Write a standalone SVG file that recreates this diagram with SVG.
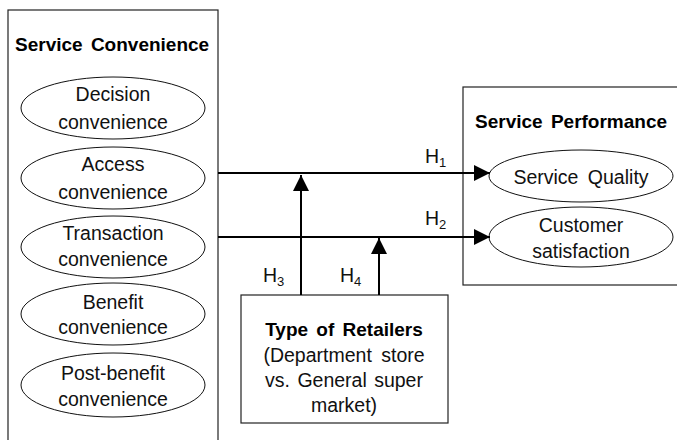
<svg xmlns="http://www.w3.org/2000/svg" width="677" height="440" viewBox="0 0 677 440">
<style>
  .box { fill: #fff; stroke: #222; stroke-width: 1.2; }
  .ell { fill: #fff; stroke: #111; stroke-width: 1; }
  .t { font-family: "Liberation Sans", Arial, sans-serif; font-size: 19.5px; fill: #111; text-anchor: middle; }
  .b { font-family: "Liberation Sans", Arial, sans-serif; font-size: 19px; font-weight: bold; fill: #000; word-spacing: 3px; }
  .h { font-family: "Liberation Sans", Arial, sans-serif; font-size: 19.5px; fill: #111; }
  .sub { font-size: 13px; }
  .conn { stroke: #000; stroke-width: 2; fill: none; }
</style>
<defs>
  <marker id="ah" markerUnits="userSpaceOnUse" markerWidth="16" markerHeight="16" refX="16" refY="8" orient="auto">
    <path d="M0,0 L16,8 L0,16 z" fill="#000"/>
  </marker>
</defs>
<rect width="677" height="440" fill="#fff"/>

<g id="service-convenience">
  <rect class="box" x="8" y="10" width="210" height="440"/>
  <text class="b" x="15" y="51">Service Convenience</text>
</g>
<g id="decision">
  <ellipse class="ell" cx="113" cy="108" rx="92" ry="31"/>
  <text class="t" x="113" y="101">Decision</text>
  <text class="t" x="113" y="129">convenience</text>
</g>
<g id="access">
  <ellipse class="ell" cx="113" cy="178" rx="92" ry="31"/>
  <text class="t" x="113" y="171">Access</text>
  <text class="t" x="113" y="199">convenience</text>
</g>
<g id="transaction">
  <ellipse class="ell" cx="113" cy="247" rx="92" ry="31"/>
  <text class="t" x="113" y="240">Transaction</text>
  <text class="t" x="113" y="266">convenience</text>
</g>
<g id="benefit">
  <ellipse class="ell" cx="113" cy="314" rx="92" ry="31"/>
  <text class="t" x="113" y="309">Benefit</text>
  <text class="t" x="113" y="334">convenience</text>
</g>
<g id="post-benefit">
  <ellipse class="ell" cx="113" cy="385" rx="92" ry="32"/>
  <text class="t" x="113" y="380">Post-benefit</text>
  <text class="t" x="113" y="406">convenience</text>
</g>

<g id="service-performance">
  <rect class="box" x="463" y="87" width="230" height="198"/>
  <text class="b" x="475" y="128">Service Performance</text>
</g>
<g id="service-quality">
  <ellipse class="ell" cx="581" cy="176" rx="92" ry="26"/>
  <text class="t" x="581" y="184" word-spacing="4">Service Quality</text>
</g>
<g id="customer-satisfaction">
  <ellipse class="ell" cx="581" cy="237" rx="92" ry="30"/>
  <text class="t" x="581" y="232">Customer</text>
  <text class="t" x="581" y="258">satisfaction</text>
</g>

<g id="type-of-retailers">
  <rect class="box" x="241" y="295" width="207" height="128"/>
  <text class="b" x="344" y="336" text-anchor="middle" word-spacing="5">Type of Retailers</text>
  <text class="t" x="344" y="362" word-spacing="4">(Department store</text>
  <text class="t" x="344" y="387" word-spacing="2">vs. General super</text>
  <text class="t" x="344" y="412">market)</text>
</g>

<g id="connectors">
  <line class="conn" x1="218" y1="173" x2="490" y2="173" marker-end="url(#ah)"/>
  <line class="conn" x1="218" y1="237" x2="490" y2="237" marker-end="url(#ah)"/>
  <line class="conn" x1="301" y1="295" x2="301" y2="175" marker-end="url(#ah)"/>
  <line class="conn" x1="379" y1="295" x2="379" y2="238" marker-end="url(#ah)"/>
  <text class="h" x="425" y="163">H<tspan class="sub" dy="4">1</tspan></text>
  <text class="h" x="425" y="225">H<tspan class="sub" dy="4">2</tspan></text>
  <text class="h" x="263" y="282">H<tspan class="sub" dy="4">3</tspan></text>
  <text class="h" x="340" y="282">H<tspan class="sub" dy="4">4</tspan></text>
</g>
</svg>
